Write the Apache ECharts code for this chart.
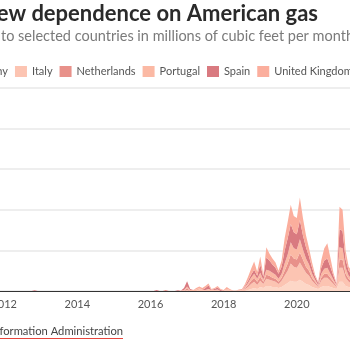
<!DOCTYPE html>
<html>
<head>
    <title>Europe's new dependence on American gas</title>
    <meta http-equiv="Content-Type" content="text/html; charset=utf-8" />
    <script src="https://cdn.jsdelivr.net/npm/echarts/dist/echarts.min.js"></script>
    <style>
        html, body { margin: 0; padding: 0; width: 350px; height: 350px; overflow: hidden; background: #fff; }
        #div_echart { position: absolute; left: -100px; top: 0; width: 520px; height: 350px; }
    </style>
    <script>
        // axis runs Jan 2010 - Jan 2022, data starts Jan 2012 (millions of cubic feet per month)
        var axisStartYear = 2010;
        var axisEndYear = 2022;
        var dataStartYear = 2012;
        var countries = ['Germany', 'Italy', 'Netherlands', 'Portugal', 'Spain', 'United Kingdom'];
        var colors = ['#fdd7c7', '#fcc4b2', '#e8918a', '#fbb9a4', '#d97a80', '#fbae9d'];
        var zeroYear = [0, 0, 0, 0, 0, 0, 0, 0, 0, 0, 0, 0];

        var germany = [].concat(zeroYear, zeroYear, zeroYear, zeroYear,
            [0, 0, 0, 0, 0, 0, 0, 0, 0, 0, 0, 0],
            [0, 0, 0, 0, 0, 0, 0, 0, 0, 0, 0, 0],
            [0, 0, 0, 0, 0, 0, 0, 0, 500, 1000, 1500, 1000],
            [2000, 1500, 2500, 2500, 2000, 2000, 1500, 2000, 3000, 4000, 5000, 4500],
            [4500, 5500, 4500, 3500, 3000, 2000, 1500, 1000, 2000, 2500, 2500, 2000],
            [1500, 1000, 4500, 4500, 2500, 2000, 1500, 2000]);
        var italy = [].concat(zeroYear, zeroYear, zeroYear, zeroYear,
            [0, 0, 0, 0, 0, 0, 0, 0, 0, 0, 250, 0],
            [500, 0, 0, 0, 750, 500, 500, 1000, 500, 500, 750, 0],
            [0, 500, 500, 0, 0, 250, 500, 1000, 1500, 2500, 3000, 2000],
            [3000, 2000, 3500, 3000, 3000, 2500, 2000, 3000, 4500, 6000, 8500, 7500],
            [7000, 8500, 7000, 5500, 4500, 3000, 2000, 1000, 3000, 4000, 4000, 3000],
            [2000, 1000, 7000, 7000, 4000, 2500, 2000, 2500]);
        var netherlands = [].concat(zeroYear, zeroYear, zeroYear, zeroYear,
            [0, 0, 0, 0, 0, 500, 0, 0, 0, 0, 0, 0],
            [1000, 0, 0, 0, 0, 0, 0, 0, 0, 0, 0, 0],
            [0, 0, 0, 0, 0, 0, 0, 500, 1000, 1500, 2000, 1500],
            [2000, 1000, 2000, 2000, 1500, 1500, 1000, 1500, 2500, 3500, 4500, 4000],
            [4000, 5000, 4000, 3000, 2500, 1500, 1000, 500, 1500, 2000, 2000, 1500],
            [1000, 500, 4000, 4000, 2000, 1500, 1000, 1500]);
        var portugal = [].concat(zeroYear, zeroYear, zeroYear, zeroYear,
            [0, 0, 0, 0, 0, 0, 0, 0, 0, 0, 0, 500],
            [750, 500, 500, 750, 750, 0, 0, 0, 0, 0, 0, 0],
            [0, 500, 0, 0, 250, 0, 0, 500, 1000, 1500, 2000, 1500],
            [2000, 1000, 2500, 2500, 2500, 2000, 1500, 2000, 3500, 4500, 6000, 5000],
            [5000, 6500, 5000, 4000, 3000, 2000, 1000, 500, 2000, 2500, 3000, 2000],
            [1000, 500, 6000, 5500, 3000, 1500, 1500, 2000]);
        var spain = [].concat(
            [0, 0, 0, 0, 0, 0, 0, 0, 0, 0, 350, 0],
            zeroYear, zeroYear, zeroYear,
            [0, 0, 500, 0, 0, 0, 0, 0, 0, 400, 0, 1000],
            [2500, 500, 0, 0, 0, 0, 1000, 1750, 0, 500, 1000, 500],
            [0, 0, 0, 0, 0, 0, 0, 500, 1000, 1500, 2000, 1500],
            [4000, 1500, 6000, 5000, 4000, 3500, 2500, 3500, 6500, 8000, 9000, 8000],
            [7500, 9500, 7000, 5500, 4000, 3000, 1500, 1000, 3000, 4000, 4500, 3500],
            [2000, 500, 9000, 8500, 4000, 2500, 2000, 3000]);
        var unitedKingdom = [].concat(zeroYear, zeroYear, zeroYear, zeroYear,
            [0, 0, 0, 0, 0, 0, 0, 0, 0, 0, 0, 0],
            [0, 0, 0, 750, 750, 1000, 1000, 1000, 500, 500, 750, 500],
            [500, 1000, 500, 250, 0, 500, 500, 1000, 2000, 3000, 4000, 2000],
            [4000, 1000, 5000, 3500, 3000, 2500, 1500, 3000, 6000, 8000, 9500, 8000],
            [8000, 11000, 8500, 6000, 4000, 2500, 1000, 500, 3500, 6000, 7500, 4500],
            [1500, 500, 11000, 10500, 4500, 2000, 2000, 3000]);

        var seriesValues = [germany, italy, netherlands, portugal, spain, unitedKingdom];

        // month categories, Jan 2010 .. Jan 2022
        var months = [];
        for (var y = axisStartYear; y <= axisEndYear; y++) {
            for (var m = 1; m <= 12; m++) {
                if (y === axisEndYear && m > 1) break;
                months.push(y + '-' + (m < 10 ? '0' + m : m));
            }
        }

        window.onload = function () {
            EchartInit();
        };

        function EchartInit() {
            var dom = document.getElementById("div_echart");
            var mychart = echarts.init(dom);
            var font = 'Lato';
            var lead = (dataStartYear - axisStartYear) * 12;

            var series = seriesValues.map(function (vals, k) {
                var padded = [];
                for (var i = 0; i < lead; i++) padded.push(0);
                return {
                    name: countries[k],
                    type: 'line',
                    stack: 'total',
                    showSymbol: false,
                    symbol: 'none',
                    lineStyle: { width: 0 },
                    itemStyle: { color: colors[k] },
                    areaStyle: { color: colors[k], opacity: 1 },
                    data: padded.concat(vals)
                };
            });

            var option = {
                animation: false,
                legend: {
                    data: countries,
                    left: 42,
                    top: 61,
                    width: 480,
                    icon: 'rect',
                    itemWidth: 12,
                    itemHeight: 11,
                    itemGap: 7,
                    textStyle: { fontFamily: font, fontSize: 11, color: '#555' }
                },
                grid: {
                    left: 31,
                    right: 50,
                    top: 88,
                    bottom: 59,
                    containLabel: false,
                    outerBoundsMode: 'none'
                },
                xAxis: {
                    type: 'category',
                    data: months,
                    boundaryGap: false,
                    axisLine: { lineStyle: { color: '#333', width: 1 } },
                    axisTick: { show: false },
                    splitLine: { show: false },
                    axisLabel: {
                        margin: 8,
                        fontFamily: font, fontSize: 11, color: '#555',
                        interval: function (index) { return index % 24 === 0; },
                        formatter: function (v) { return v.slice(0, 4); }
                    }
                },
                yAxis: {
                    type: 'value',
                    min: 0,
                    max: 100000,
                    interval: 20000,
                    axisLine: { show: false },
                    axisTick: { show: false },
                    axisLabel: { show: false },
                    splitLine: { lineStyle: { color: '#e9e9e9', width: 1.5 } }
                },
                graphic: [
                    {
                        type: 'text', x: 418, y: 14,
                        style: {
                            text: "Europe's new dependence on American gas",
                            textAlign: 'right', textVerticalAlign: 'middle',
                            fontFamily: font, fontWeight: 'bold', fontSize: 22, fill: '#2a2a2a'
                        }
                    },
                    {
                        type: 'text', x: 101, y: 36,
                        style: {
                            text: 'to selected countries in millions of cubic feet per month',
                            textAlign: 'left', textVerticalAlign: 'middle',
                            fontFamily: font, fontSize: 14.5, fill: '#7a7a7a'
                        }
                    },
                    {
                        type: 'text', x: 223, y: 331,
                        style: {
                            text: 'Source: U.S. Energy Information Administration',
                            textAlign: 'right', textVerticalAlign: 'middle',
                            fontFamily: font, fontSize: 11.2, fill: '#444'
                        }
                    },
                    {
                        type: 'line',
                        shape: { x1: 0, y1: 338.5, x2: 223, y2: 338.5 },
                        style: { stroke: '#e8453c', lineWidth: 1 }
                    }
                ],
                series: series
            };

            if (option && typeof option === "object") {
                mychart.setOption(option, true);
            }
        }
    </script>
</head>
<body>
    <div id="div_echart"></div>
</body>
</html>
